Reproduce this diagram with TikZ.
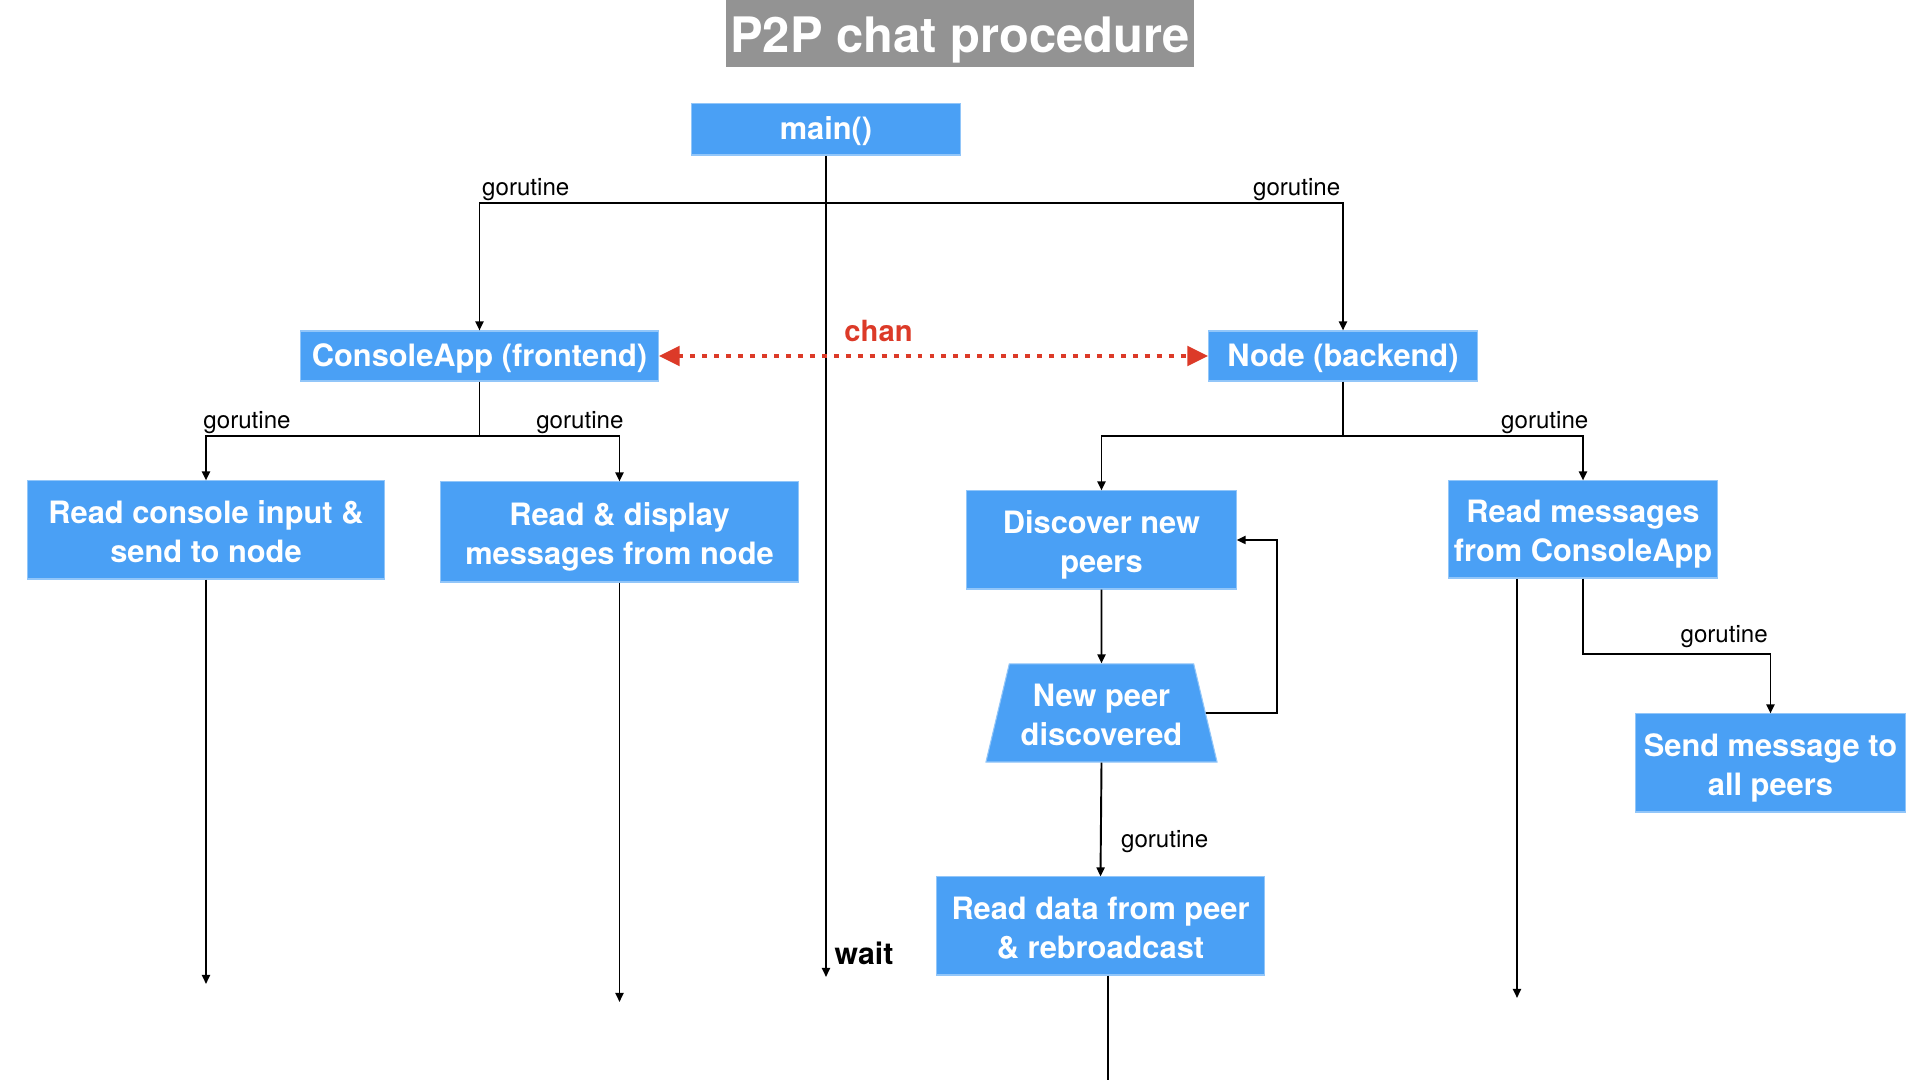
\documentclass[tikz,border=0pt]{standalone}
\usepackage{fontspec}
\setmainfont{TeX Gyre Heros}
\usetikzlibrary{arrows.meta,shapes.geometric}

\definecolor{boxblue}{RGB}{74,160,245}
\definecolor{chanred}{RGB}{220,58,40}
\definecolor{titlegray}{RGB}{147,147,147}

% strut that lowers the first of two lines a little
\newcommand{\linetop}{\rule{0pt}{1.06em}}

\tikzset{%
  task box/.style={
    rectangle,
    fill=boxblue,
    draw=boxblue!60!white,
    line width=0.3pt,
    text=white,
    align=center,
    inner sep=0pt,
    font=\bfseries\fontsize{8.76}{11.1}\selectfont,
    execute at begin node={\rule{0pt}{0.9em}},
    execute at end node={\rule[-0.23em]{0pt}{0.23em}}
  },
  task check/.style={
    trapezium,
    trapezium left angle=73.5,
    trapezium right angle=73.5,
    trapezium stretches body
  },
  title box/.style={
    fill=titlegray,
    text=white,
    inner sep=0pt,
    minimum width=4.68cm,
    minimum height=0.67cm,
    text height=0.42cm,
    text depth=0.03cm,
    font=\bfseries\fontsize{13.9}{16}\selectfont
  },
  go label/.style={
    inner xsep=0.5pt,
    inner ysep=0.5pt,
    font=\fontsize{6.86}{8}\selectfont
  },
  wait label/.style={
    font=\bfseries\fontsize{8.6}{10}\selectfont
  },
  chan label/.style={
    text=chanred,
    font=\bfseries\fontsize{8.3}{10}\selectfont
  },
  chan arrow/.style={
    draw=chanred,
    line width=1.4pt,
    dash pattern=on 1.4pt off 2pt,
    {Triangle[length=0.21cm, width=0.19cm]}-{Triangle[length=0.21cm, width=0.19cm]}
  },
}

\begin{document}
\begin{tikzpicture}[x=0.01cm, y=-0.01cm, line width=0.55pt,
  >={Triangle[length=0.09cm, width=0.08cm]}]

\useasboundingbox (0,0) rectangle (1920,1080);

% TITLE
\node [title box] (title) at (960,33.5) {P2P chat procedure};

% MAIN
\node [task box, minimum width=2.68cm, minimum height=0.51cm]
  (main) at (826,129.5) {main()};

% FRONTEND and BACKEND
\node [task box, minimum width=3.57cm, minimum height=0.5cm]
  (console) at (479.5,356) {ConsoleApp (frontend)};
\node [task box, minimum width=2.68cm, minimum height=0.5cm]
  (backend) at (1343,356) {Node (backend)};

% FRONTEND gorutines
\node [task box, minimum width=3.57cm, minimum height=0.98cm]
  (readinput) at (206,530) {\linetop Read console input \&\\send to node};
\node [task box, minimum width=3.57cm, minimum height=1cm]
  (display) at (619.5,532) {\linetop Read \& display\\messages from node};

% BACKEND gorutines
\node [task box, minimum width=2.69cm, minimum height=0.98cm]
  (discover) at (1101.5,540) {\linetop Discover new\\peers};
\node [task box, task check, minimum width=2.31cm, minimum height=0.98cm]
  (newpeer) at (1101.5,713) {\linetop New peer\\discovered};
\node [task box, minimum width=3.27cm, minimum height=0.98cm]
  (readdata) at (1100.5,926) {\linetop Read data from peer\\\& rebroadcast};
\node [task box, minimum width=2.68cm, minimum height=0.97cm]
  (readmsg) at (1583,529.5) {\linetop Read messages\\from ConsoleApp};
\node [task box, minimum width=2.69cm, minimum height=0.98cm]
  (sendall) at (1770.5,763) {\linetop Send message to\\all peers};

% Free ends and corners
\coordinate (maintap) at (826,203);
\coordinate (mainend) at (826,977);
\coordinate (fronttap) at (479.5,436);
\coordinate (backtap) at (1343,436);
\coordinate (inputend) at (206,984);
\coordinate (displayend) at (619.5,1002);
\coordinate (loopcorner) at (1277,713);
\coordinate (dataend) at (1108,1080);
\coordinate (msgend) at (1517,998);

% Connections: main
\draw [->] (main.south) -- (mainend);
\node [wait label] (waitlabel) at (864,953) {wait};
\draw [->] (maintap) -| (console.north)
  node [go label, pos=0.5, anchor=south west] {gorutine};
\draw [->] (maintap) -| (backend.north)
  node [go label, pos=0.5, anchor=south east] {gorutine};

% Connections: frontend
\draw (console.south) -- (fronttap);
\draw [->] (fronttap) -| (readinput.north)
  node [go label, pos=0.5, anchor=south west, xshift=-1.5pt] {gorutine};
\draw [->] (fronttap) -| (display.north)
  node [go label, pos=0.5, anchor=south east, xshift=1.9pt] {gorutine};
\draw [->] (readinput.south) -- (inputend);
\draw [->] (display.south) -- (displayend);

% Connections: backend
\draw (backend.south) -- (backtap);
\draw [->] (backtap) -| (discover.north);
\draw [->] (backtap) -| (readmsg.north)
  node [go label, pos=0.5, anchor=south east, xshift=2.3pt] {gorutine};
\draw [->] (discover.south) -- (newpeer.north);
\draw [->] (newpeer.east) -- (loopcorner) |- (discover.east);
\draw [->] (newpeer.south) -- (readdata.north)
  node [go label, pos=0.69, right=5pt] {gorutine};
\draw (readdata.south -| dataend) -- (dataend);
\draw [->] (readmsg.south -| msgend) -- (msgend);
\draw [->] (readmsg.south) -- ++(0,75) -| (sendall.north)
  node [go label, pos=0.5, anchor=south east, yshift=1pt] {gorutine};

% Channel between frontend and backend
\draw [chan arrow] (console.east) -- (backend.west)
  node [chan label, pos=0.4, above] {chan};

\end{tikzpicture}
\end{document}
